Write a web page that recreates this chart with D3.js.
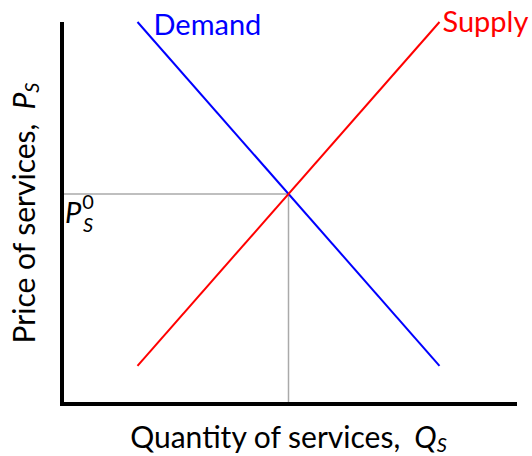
<!DOCTYPE html>
<html>
<head>
<meta charset="utf-8">
<script src="https://cdn.jsdelivr.net/npm/d3@7"></script>
<style>
  html, body { margin: 0; padding: 0; background: #fff; }
  svg { display: block; }
</style>
</head>
<body>
<div id="chart"></div>
<script>
// curve end points in data units (quantity, price)
const demand = [{ q: 1.5, p: 10 }, { q: 7.5, p: 1 }];
const supply = [{ q: 1.5, p: 1 }, { q: 7.5, p: 10 }];
const equilibrium = { q: 4.5, p: 5.5 };
const qDomain = [0, 9];
const pDomain = [0, 10];

const width = 532, height = 456;
const font = "Lato, 'Open Sans', sans-serif";

const svg = d3.select("#chart").append("svg").attr("width", width).attr("height", height);

const x = d3.scaleLinear().domain(qDomain).range([62, 515]);
const y = d3.scaleLinear().domain(pDomain).range([404, 22]);

const line = d3.line().x((d) => x(d.q)).y((d) => y(d.p));

// guide lines to equilibrium
svg.append("path")
  .attr("d", line([{ q: 0, p: equilibrium.p }, equilibrium, { q: equilibrium.q, p: 0 }]))
  .attr("fill", "none")
  .attr("stroke", "#aaaaaa")
  .attr("stroke-width", 1.5);

svg.append("path").attr("d", line(demand)).attr("fill", "none").attr("stroke", "#0000ff").attr("stroke-width", 2);
svg.append("path").attr("d", line(supply)).attr("fill", "none").attr("stroke", "#ff0000").attr("stroke-width", 2);

// axes: plain thick lines, no ticks
svg.append("path")
  .attr("d", `M${x(0)},${y(pDomain[1])}V${y(0)}H517`)
  .attr("fill", "none")
  .attr("stroke", "#000")
  .attr("stroke-width", 4);

svg.append("text")
  .attr("x", x(demand[0].q) + 16)
  .attr("y", y(demand[0].p) + 13)
  .attr("fill", "#0000ff")
  .attr("font-family", font)
  .attr("font-size", 29)
  .text("Demand");

svg.append("text")
  .attr("x", x(supply[1].q) + 3)
  .attr("y", y(supply[1].p) + 10)
  .attr("fill", "#ff0000")
  .attr("font-family", font)
  .attr("font-size", 29)
  .text("Supply");

// equilibrium price label
const p0 = svg.append("text")
  .attr("x", x(0) + 3)
  .attr("y", y(equilibrium.p) + 29)
  .attr("font-family", font)
  .attr("font-size", 29)
  .attr("fill", "#000");
p0.append("tspan").attr("font-style", "italic").text("P");
p0.append("tspan").attr("font-size", 20).attr("dy", -14).attr("dx", 1).text("0");
p0.append("tspan").attr("font-size", 20).attr("font-style", "italic").attr("dy", 23).attr("dx", -11).text("S");

const xl = svg.append("text")
  .attr("x", x(equilibrium.q))
  .attr("y", 448)
  .attr("text-anchor", "middle")
  .attr("font-family", font)
  .attr("font-size", 30)
  .attr("fill", "#000");
xl.append("tspan").text("Quantity of services,");
xl.append("tspan").attr("font-style", "italic").attr("dx", 14).text("Q");
xl.append("tspan").attr("font-style", "italic").attr("font-size", 20).attr("dy", 4).text("S");

const yl = svg.append("text")
  .attr("transform", `translate(35,213) rotate(-90)`)
  .attr("text-anchor", "middle")
  .attr("font-family", font)
  .attr("font-size", 30)
  .attr("fill", "#000");
yl.append("tspan").text("Price of services,");
yl.append("tspan").attr("font-style", "italic").attr("dx", 14).text("P");
yl.append("tspan").attr("font-style", "italic").attr("font-size", 20).attr("dy", 4).text("S");
</script>
</body>
</html>
